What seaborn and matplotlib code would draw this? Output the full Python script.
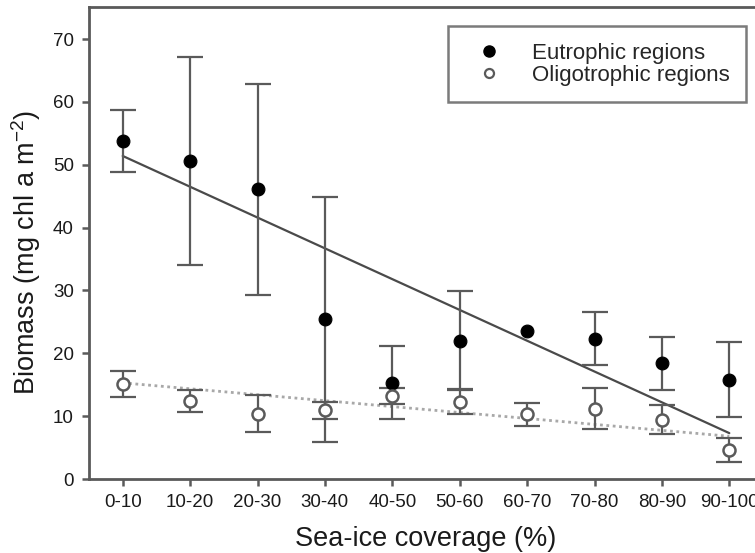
import numpy as np
import pandas as pd
import matplotlib
matplotlib.use("Agg")
import matplotlib.pyplot as plt
import seaborn as sns
from matplotlib.lines import Line2D

# Sea-ice coverage classes
categories = ["0-10", "10-20", "20-30", "30-40", "40-50",
              "50-60", "60-70", "70-80", "80-90", "90-100"]

# Mean biomass (mg chl a m-2) and standard deviations
eutrophic_mean = [53.8, 50.6, 46.1, 25.4, 15.3, 22.0, 23.5, 22.3, 18.4, 15.8]
eutrophic_sd = [4.9, 16.5, 16.8, 19.5, 5.8, 7.9, np.nan, 4.2, 4.2, 6.0]
oligotrophic_mean = [15.1, 12.4, 10.4, 10.9, 13.2, 12.3, 10.3, 11.2, 9.4, 4.6]
oligotrophic_sd = [2.1, 1.7, 3.0, 1.35, 1.2, 2.0, 1.8, 3.3, 2.3, 1.9]

# Fitted trend lines, evaluated at the first and last class
trend_x = [0, 9]
eutrophic_trend = [51.4, 7.3]
oligotrophic_trend = [15.3, 6.8]

sns.set_theme(style="ticks")
plt.rcParams["font.family"] = ["Liberation Sans", "DejaVu Sans"]
plt.rcParams["mathtext.default"] = "regular"

grey = "#5a5a5a"
x = np.arange(len(categories))
df = pd.DataFrame({
    "pos": np.concatenate([x, x]),
    "mean": eutrophic_mean + oligotrophic_mean,
    "sd": eutrophic_sd + oligotrophic_sd,
    "group": ["Eutrophic regions"] * len(x) + ["Oligotrophic regions"] * len(x),
})

fig = plt.figure(figsize=(7.55, 5.53), dpi=100)
ax = fig.add_axes([89 / 755, 74 / 553, 674 / 755, 472 / 553])

# regression lines
sns.lineplot(x=trend_x, y=eutrophic_trend, ax=ax, color="#4a4a4a",
             linewidth=1.6, zorder=2)
sns.lineplot(x=trend_x, y=oligotrophic_trend, ax=ax, color="#a8a8a8",
             linewidth=2.0, linestyle=(0, (1, 1.3)), zorder=2)

# error bars
for grp in ["Eutrophic regions", "Oligotrophic regions"]:
    sub = df[(df["group"] == grp) & df["sd"].notna()]
    ax.errorbar(sub["pos"], sub["mean"], yerr=sub["sd"], fmt="none",
                ecolor=grey, elinewidth=1.6, capsize=9.5, capthick=1.6,
                zorder=3)

# markers
eu = df[df["group"] == "Eutrophic regions"]
ol = df[df["group"] == "Oligotrophic regions"]
sns.scatterplot(data=eu, x="pos", y="mean", ax=ax, s=85, color="black",
                edgecolor="black", linewidth=0.8, zorder=4, legend=False)
sns.scatterplot(data=ol, x="pos", y="mean", ax=ax, s=75, color="white",
                edgecolor=grey, linewidth=1.8, zorder=5, legend=False)

ax.set_xlim(-0.5, 9.5)
ax.set_ylim(0, 75.1)
ax.set_xticks(x)
ax.set_xticklabels(categories)
ax.set_yticks(range(0, 71, 10))
ax.tick_params(axis="both", labelsize=13.5, length=5, width=1.8,
               color=grey, pad=6, labelcolor="#1a1a1a")

for side in ["left", "bottom", "top", "right"]:
    ax.spines[side].set_visible(True)
    ax.spines[side].set_color(grey)
    ax.spines[side].set_linewidth(2.0)

ax.set_xlabel("Sea-ice coverage (%)", fontsize=19.5, labelpad=10.5,
              color="#1a1a1a")
ax.set_ylabel("Biomass (mg chl a m$^{-2}$)", fontsize=19.5,
              color="#1a1a1a")
ax.yaxis.set_label_coords(-0.068, 0.481)

handles = [
    Line2D([], [], linestyle="none", marker="o", markersize=8,
           markerfacecolor="black", markeredgecolor="black"),
    Line2D([], [], linestyle="none", marker="o", markersize=6.5,
           markerfacecolor="white", markeredgecolor=grey,
           markeredgewidth=1.6),
]
leg = ax.legend(handles, ["Eutrophic regions", "Oligotrophic regions"],
                loc="upper right", bbox_to_anchor=(746 / 755, 1 - 26 / 553),
                bbox_transform=fig.transFigure, fontsize=16, frameon=True,
                fancybox=False, borderpad=0.75, labelspacing=0.05,
                handletextpad=0.8, handlelength=2.2, borderaxespad=0)
leg.get_frame().set_edgecolor(grey)
leg.get_frame().set_linewidth(1.8)

fig.savefig("out.png", dpi=100)
